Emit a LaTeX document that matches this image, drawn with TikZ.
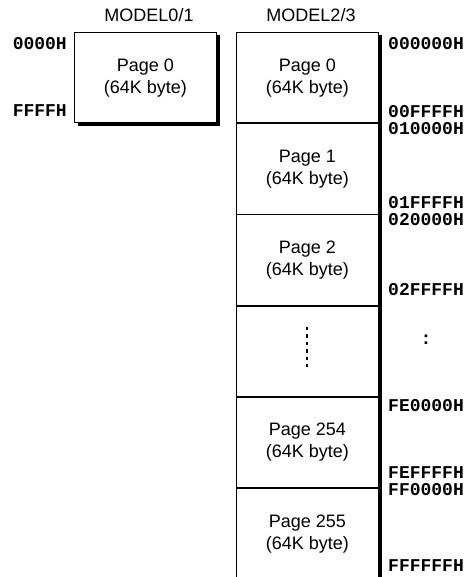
\documentclass[tikz,border=0pt]{standalone}
\usepackage{fontspec}
\setmainfont{Liberation Sans}
\newfontfamily\addrfont{Liberation Mono}[BoldFont={Liberation Mono Bold}]
\begin{document}
\begin{tikzpicture}[x=1pt,y=-1pt,
  page/.style={draw=black,line width=0.7pt,fill=white,anchor=north west,
    minimum width=142pt,minimum height=90.5pt,inner sep=0pt,align=center,
    font=\fontsize{18}{22}\selectfont},
  title/.style={font=\fontsize{18}{22}\selectfont,inner sep=0pt},
  addr/.style={font=\addrfont\bfseries\fontsize{18}{20}\selectfont,inner sep=0pt},
  sep/.style={line width=1.8pt},
  shadowfill/.style={fill=black,draw=none}]
\useasboundingbox (0,0) rectangle (472,577);
% titles
\node[title] (t1) at (149,15) {MODEL0/1};
\node[title] (t2) at (311,15) {MODEL2/3};
% left box
\fill[shadowfill] (78,35) rectangle (220,126);
\node[page] (L0) at (74,32) {Page 0\\(64K byte)};
\node[addr,anchor=east] (la) at (67,44) {0000H};
\node[addr,anchor=east] (lb) at (67,111) {FFFFH};
% right column
\fill[shadowfill] (378,35) rectangle (382,580);
\node[page] (P0) at (236,32) {Page 0\\(64K byte)};
\node[page] (P1) at (P0.south west) {Page 1\\(64K byte)};
\node[page] (P2) at (P1.south west) {Page 2\\(64K byte)};
\node[page] (PD) at (P2.south west) {};
\node[page] (P254) at (PD.south west) {Page 254\\(64K byte)};
\node[page] (P255) at (P254.south west) {Page 255\\(64K byte)};
\draw[sep] (P0.south west) -- (P0.south east);
\draw[sep] (P1.south west) -- (P1.south east);
\draw[sep] (P2.south west) -- (P2.south east);
\draw[sep] (PD.south west) -- (PD.south east);
\draw[sep] (P254.south west) -- (P254.south east);
% dashed line
\coordinate (d1) at (307,327);
\coordinate (d2) at (307,368);
\draw[line width=2pt,dash pattern=on 3.4pt off 4pt] (d1) -- (d2);
% addresses
\node[addr,anchor=west] (a1) at (388,44) {000000H};
\node[addr,anchor=west] (a2) at (388,112) {00FFFFH};
\node[addr,anchor=west] (a3) at (388,129) {010000H};
\node[addr,anchor=west] (a4) at (388,203) {01FFFFH};
\node[addr,anchor=west] (a5) at (388,220) {020000H};
\node[addr,anchor=west] (a6) at (388,290) {02FFFFH};
\node[addr] (a7) at (426,340) {:};
\node[addr,anchor=west] (a8) at (388,406) {FE0000H};
\node[addr,anchor=west] (a9) at (388,473) {FEFFFFH};
\node[addr,anchor=west] (a10) at (388,490) {FF0000H};
\node[addr,anchor=west] (a11) at (388,566) {FFFFFFH};
\end{tikzpicture}
\end{document}
